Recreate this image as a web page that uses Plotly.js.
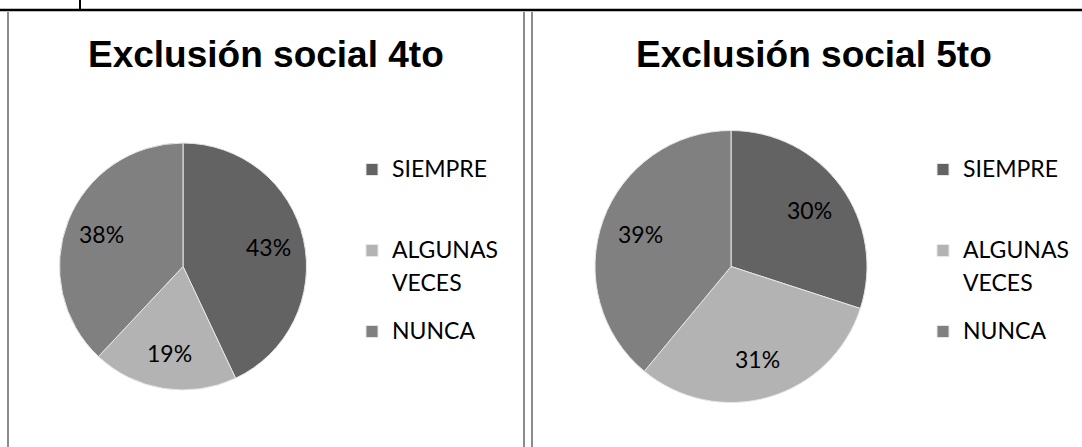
<!DOCTYPE html>
<html>
<head>
<meta charset="utf-8">
<script src="https://cdn.plot.ly/plotly-3.0.1.min.js"></script>
<style>
  html, body { margin: 0; padding: 0; background: #ffffff; }
  #chart { width: 1082px; height: 447px; }
</style>
</head>
<body>
<div id="chart"></div>
<script>
// ---- data ----
const categories = ["SIEMPRE", "ALGUNAS VECES", "NUNCA"];
const values4to = [43, 19, 38];
const values5to = [30, 31, 39];
const titles = ["Exclusión social 4to", "Exclusión social 5to"];
const sliceColors = ["#636363", "#b3b3b3", "#808080"];

const W = 1082, H = 447;
const px = v => v / W;
const py = v => 1 - v / H;

// legend display labels: wrap like the original and pad with blank lines for spacing
const TXT = (s, k) => '<span style="font-size:23px' + (k > 0 ? ';baseline-shift:-7px' : '') + '">' + s + '</span>';
const legendLabels = categories.map((c, i) => {
  const words = c.split(" ");
  const wrapped = words.map(TXT).join("<br>");
  let pad = "";
  if (i < categories.length - 1) for (let k = words.length; k < 3; k++) pad += "<br>\u00a0";
  return wrapped + pad;
});

// pie boxes (pixels): left, top, size
const boxes = [
  { l: 59.5, t: 143, s: 247 },
  { l: 595, t: 130.5, s: 272 }
];

function pieTrace(values, idx) {
  const b = boxes[idx];
  return {
    type: "pie",
    labels: legendLabels,
    values: values,
    name: titles[idx],
    legend: idx === 0 ? "legend" : "legend2",
    legendgroup: "g" + idx,
    sort: false,
    direction: "clockwise",
    rotation: 0,
    textinfo: "none",
    marker: { colors: sliceColors, line: { color: "#e6e6e6", width: 1 } },
    hoverinfo: "percent",
    domain: { x: [px(b.l), px(b.l + b.s)], y: [py(b.t + b.s), py(b.t)] }
  };
}

// percentage labels placed at each slice's mid-angle, ~0.71 of the radius
function pctLabels(values, idx) {
  const b = boxes[idx];
  const cx = b.l + b.s / 2, cy = b.t + b.s / 2, R = b.s / 2;
  const total = values.reduce((a, v) => a + v, 0);
  let cum = 0;
  return values.map(v => {
    const mid = (cum + v / 2) / total * 2 * Math.PI;
    cum += v;
    const r = 0.71 * R;
    return {
      text: Math.round(v / total * 100) + "%",
      xref: "paper", yref: "paper",
      x: px(cx + r * Math.sin(mid)), y: py(cy - r * Math.cos(mid)),
      xanchor: "center", yanchor: "middle", showarrow: false,
      font: { family: "Lato, 'Open Sans', sans-serif", size: 23, color: "#000000" }
    };
  });
}

const legendFont = { family: "Lato, 'Open Sans', sans-serif", size: 20, color: "#000000" };
const titleFont = { family: "'Liberation Sans', Arial, sans-serif", size: 37, color: "#000000" };

const layout = {
  width: W, height: H,
  margin: { l: 0, r: 0, t: 0, b: 0 },
  paper_bgcolor: "#ffffff",
  plot_bgcolor: "#ffffff",
  showlegend: true,
  legend: {
    x: px(352), y: py(150), xanchor: "left", yanchor: "top",
    font: legendFont, valign: "top", bgcolor: "rgba(0,0,0,0)"
  },
  legend2: {
    x: px(923), y: py(150), xanchor: "left", yanchor: "top",
    font: legendFont, valign: "top", bgcolor: "rgba(0,0,0,0)"
  },
  annotations: [
    { text: "<b>" + titles[0] + "</b>", xref: "paper", yref: "paper",
      x: px(266), y: py(55), xanchor: "center", yanchor: "middle", showarrow: false, font: titleFont },
    { text: "<b>" + titles[1] + "</b>", xref: "paper", yref: "paper",
      x: px(814), y: py(55), xanchor: "center", yanchor: "middle", showarrow: false, font: titleFont }
  ].concat(pctLabels(values4to, 0), pctLabels(values5to, 1)),
  shapes: [
    { type: "line", xref: "paper", yref: "paper", x0: 0, x1: 1, y0: py(10), y1: py(10),
      line: { color: "#000000", width: 2.5 } },
    { type: "line", xref: "paper", yref: "paper", x0: px(80), x1: px(80), y0: 1, y1: py(10),
      line: { color: "#000000", width: 2 } },
    { type: "line", xref: "paper", yref: "paper", x0: px(8), x1: px(8), y0: py(12), y1: 0,
      line: { color: "#8c8c8c", width: 2 } },
    { type: "line", xref: "paper", yref: "paper", x0: px(524), x1: px(524), y0: py(12), y1: 0,
      line: { color: "#8c8c8c", width: 2 } },
    { type: "line", xref: "paper", yref: "paper", x0: px(532), x1: px(532), y0: py(12), y1: 0,
      line: { color: "#8c8c8c", width: 2 } }
  ]
};

Plotly.newPlot("chart", [pieTrace(values4to, 0), pieTrace(values5to, 1)], layout,
  { displayModeBar: false, responsive: false });
</script>
</body>
</html>
